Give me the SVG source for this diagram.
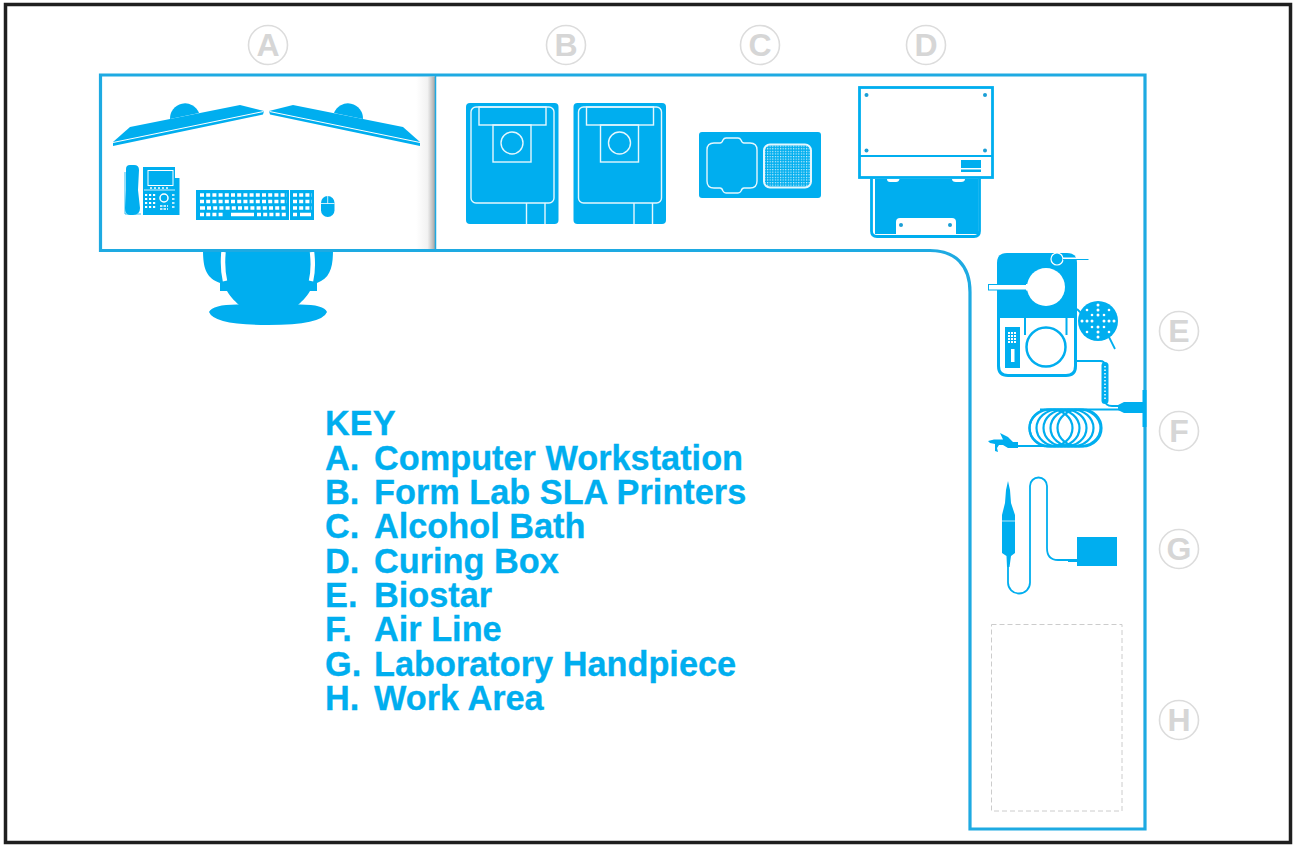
<svg xmlns="http://www.w3.org/2000/svg" width="1297" height="848" viewBox="0 0 1297 848">
<style>
.b{fill:#00aeef}
.w{fill:#fff}
.wl{fill:none;stroke:#e4f7fe;stroke-width:1.4}
.bl{fill:none;stroke:#00aeef;stroke-width:1.8}
.wall{fill:#fff;stroke:#1eaae2;stroke-width:3.2}
.lc{fill:#fff;stroke:#dcdcdc;stroke-width:1.6}
.lt{font:bold 32px "Liberation Sans",Arial,sans-serif;fill:#d6d6d6;text-anchor:middle}
.k{font:bold 34.3px "Liberation Sans",Arial,sans-serif;fill:#00aeef;stroke:#00aeef;stroke-width:.3}
</style>
<defs>
<linearGradient id="sh" x1="0" x2="1" y1="0" y2="0"><stop offset="0" stop-color="#aaa" stop-opacity="0"/><stop offset=".6" stop-color="#aaa" stop-opacity=".15"/><stop offset="1" stop-color="#999" stop-opacity=".9"/></linearGradient>
<pattern id="grid" width="2.6" height="2.6" patternUnits="userSpaceOnUse"><rect width="2.6" height="2.6" fill="#00aeef"/><rect width="1.2" height="1.2" fill="#d5f2fc"/></pattern>
<g id="printer">
<rect width="92.5" height="121" rx="4" class="b"/>
<rect x="5" y="4" width="83" height="96" rx="5" class="wl"/>
<rect x="13" y="4" width="67" height="18" class="wl"/>
<rect x="27" y="22" width="38" height="37" class="wl"/>
<circle cx="46" cy="40" r="11" class="wl"/>
<path d="M60.500 100V121M79 100V121" class="wl"/>
</g>
<g id="mon"><path d="M170 119A15 15 0 0 1 199 113Z" class="b"/><path d="M113 142L130 127L240 105L264 111L263 114.500L113 146Z" class="b"/><path d="M113 142.500L263.500 111.500" stroke="#fff" stroke-width="1" fill="none"/></g>
</defs>
<rect width="1297" height="848" fill="#fff"/>
<rect x="5.500" y="4.500" width="1285" height="838" fill="#fff" stroke="#1f1f1f" stroke-width="3.500"/>

<g id="chair">
<path d="M203 250C203 268 206 278 220 283V291H227C231 298 236 302 240 306H297C301 302 306 298 310 291H317V283C330 278 333 268 333 250Z" class="b"/>
<path d="M223.500 252Q222 268 225 281M312 252Q314 268 311 281" stroke="#fff" stroke-width="4.500" fill="none"/>
<path d="M209 312Q213 304 240 304.500H297Q324 304 327 312Q322 325 268 325Q214 325 209 312Z" class="b"/>
</g>

<g id="room">
<path class="wall" d="M100.500 75H1145V829H970V292C970 265 955 250.500 930 250.500H100.500Z"/>
<rect x="416" y="76.500" width="19" height="172.500" fill="url(#sh)"/>
<path d="M435.500 75V250" stroke="#1eaae2" stroke-width="1.500"/>
</g>

<g id="connectors">
<path class="bl" d="M1077 361H1100Q1105 361 1105 366V400Q1105 406 1112 406H1124"/>
<path class="bl" d="M1018 446H1048M1040 409.500H1122"/>
<path class="bl" d="M1008 567V582.500A11 11 0 0 0 1030 582.500V486A8.500 8.500 0 0 1 1047 486V548Q1047 560 1058 560H1077"/>
</g>

<g id="node-a">
<use href="#mon"/>
<use href="#mon" transform="matrix(-1 0 0 1 533 0)"/>
<g id="phone">
<rect x="143" y="167" width="32" height="48" class="b"/>
<rect x="175" y="178" width="4.500" height="37" class="b"/>
<path d="M127 169Q127 166 130 166H134Q138 166 138 170L137 190L139 208Q139 214 133 214H130Q126 214 126 208L127 190Z" class="b" stroke="#00aeef" stroke-width="2"/>
<path d="M125 172V214H141" fill="none" stroke="#00aeef" stroke-width=".8"/>
<rect x="148" y="170.500" width="25" height="15" fill="#00aeef" stroke="#fff"/>
<path d="M144 190H175" stroke="#fff" stroke-width=".8"/>
<path d="M150 188H170" stroke="#fff" stroke-width="1.500" stroke-dasharray="2 2"/>
<path d="M145 195H157M145 199H157M145 203H157M145 207H157" stroke="#fff" stroke-width="2" stroke-dasharray="2.200 1.800"/>
<circle cx="164" cy="198" r="4" fill="none" stroke="#fff" stroke-width="1.500"/>
<path d="M160 206H168M160 209H168M172 195H175M172 199H175M172 203H175M172 207H175" stroke="#fff" stroke-width="1.300" stroke-dasharray="2.500 1"/>
</g>
<g id="keyboard">
<rect x="196" y="190" width="118" height="30" class="b"/>
<path d="M289.500 190V220" stroke="#fff" stroke-width="1"/>
<path d="M200 195H287M200 201.500H287M207 208H287M200 214.500H224M257 214.500H287M293 195H312M293 201.500H312M293 208H312" stroke="#fff" stroke-width="3.600" stroke-dasharray="4 2.200"/>
<path d="M200 208H205M231 214.500H254M300 214.500H311M293 214.500H297" stroke="#fff" stroke-width="3.600"/>
</g>
<g id="mouse"><rect x="321" y="196" width="13.500" height="21" rx="6.700" class="b"/><path d="M321 203.500H334.500M327.700 196V203.500" stroke="#fff" stroke-width=".8"/></g>
</g>

<g id="node-b">
<use href="#printer" x="466" y="103"/>
<use href="#printer" x="573.500" y="103"/>
</g>

<g id="node-c">
<rect x="699" y="132" width="122" height="66" rx="3" class="b"/>
<path class="wl" d="M714 143H720Q722 143 723 140Q724 138 726 138H738Q740 138 741 140Q742 143 744 143H750Q757 143 757 150V181Q757 188 750 188H744Q742 188 741 191Q740 193 738 193H726Q724 193 723 191Q722 188 720 188H714Q707 188 707 181V150Q707 143 714 143Z"/>
<rect x="764" y="144.500" width="47" height="43" rx="6" fill="url(#grid)" stroke="#e4f7fe" stroke-width="2"/>
</g>

<g id="node-d">
<rect x="859.500" y="87.500" width="133" height="90" class="w" stroke="#00aeef" stroke-width="2.800"/>
<path d="M859 156H992" stroke="#00aeef" stroke-width="2"/>
<rect x="961" y="160" width="20" height="8" class="b"/><rect x="961" y="169.500" width="20" height="2.500" class="b"/>
<g fill="#1b9fd6"><circle cx="866.500" cy="95" r="2"/><circle cx="985" cy="95" r="2"/><circle cx="866.500" cy="150.500" r="2"/><circle cx="985" cy="150.500" r="2"/></g>
<rect x="875" y="179" width="103" height="55" class="b"/>
<path d="M871.500 178.500V231Q871.500 236.500 877 236.500H974Q979.500 236.500 979.500 231V178.500" fill="none" stroke="#00aeef" stroke-width="2.800"/>
<path d="M896 234V222Q896 218 900 218H952Q956 218 956 222V234Z" class="w"/>
<path d="M887 179H899.500Q899 182 896 182H890Q887 182 887 179ZM952 179H965Q965 182 961 182H956Q952 182 952 179Z" class="w"/>
<g fill="#1b9fd6"><circle cx="901" cy="225" r="2"/><circle cx="950" cy="225" r="2"/></g>
</g>

<g id="node-e">
<path d="M1007 253H1067Q1077 253 1077 263V318H997V263Q997 253 1007 253Z" class="b"/>
<path d="M998.500 318V366Q998.500 375.500 1008 375.500H1066Q1075.500 375.500 1075.500 366V318" fill="none" stroke="#00aeef" stroke-width="3"/>
<circle cx="1046" cy="287" r="19" class="w"/>
<rect x="988.500" y="284.500" width="38" height="5.500" class="w" stroke="#00aeef" stroke-width="1"/>
<path d="M1027 284V290.500" stroke="#fff" stroke-width="2"/>
<path d="M1063 257.500H1077V259H1063Z" class="w"/>
<circle cx="1057" cy="259" r="6" class="b" stroke="#fff" stroke-width="1.200"/>
<path d="M1063 259.500H1088.500" stroke="#00aeef" stroke-width="1"/>
<path d="M1025 318V335M1066.500 318V335" stroke="#00aeef" stroke-width="2"/>
<circle cx="1046" cy="347" r="19.500" class="w" stroke="#00aeef" stroke-width="2.500"/>
<rect x="1005" y="327" width="15" height="41" class="b"/>
<path d="M1008 333H1017M1008 336H1017M1008 339H1017M1008 342H1017" stroke="#fff" stroke-width="2" stroke-dasharray="2 1"/>
<rect x="1011" y="349" width="3.500" height="13" class="w"/>
<path d="M1077 309L1083 315M1109 337L1115 349" stroke="#00aeef" stroke-width="1.800"/>
<circle cx="1098" cy="321" r="20" class="b"/>
<g fill="#fff"><circle cx="1098" cy="305" r="1.500"/><circle cx="1098" cy="310" r="1.500"/><circle cx="1098" cy="315" r="1.500"/><circle cx="1098" cy="327" r="1.500"/><circle cx="1098" cy="332" r="1.500"/><circle cx="1098" cy="337" r="1.500"/><circle cx="1082" cy="321" r="1.500"/><circle cx="1087" cy="321" r="1.500"/><circle cx="1092" cy="321" r="1.500"/><circle cx="1104" cy="321" r="1.500"/><circle cx="1109" cy="321" r="1.500"/><circle cx="1114" cy="321" r="1.500"/><circle cx="1087" cy="310" r="1.300"/><circle cx="1109" cy="310" r="1.300"/><circle cx="1087" cy="332" r="1.300"/><circle cx="1109" cy="332" r="1.300"/><circle cx="1092" cy="315" r="1.300"/><circle cx="1104" cy="315" r="1.300"/><circle cx="1092" cy="327" r="1.300"/><circle cx="1104" cy="327" r="1.300"/></g>
<rect x="1101.500" y="362" width="7" height="42" rx="3.500" class="b"/>
<path d="M1105 366V401" stroke="#fff" stroke-width="1.500" stroke-dasharray="1.500 2"/>
</g>

<g id="node-f">
<path d="M1118 405L1124 402H1144V413H1124L1118 410Z" class="b"/>
<rect x="1142.500" y="390" width="4" height="37" class="b"/>
<g fill="none" stroke="#00aeef" stroke-width="2.200">
<path d="M1048 409.500H1083A18.500 18.500 0 0 1 1083 446.500H1048A18.500 18.500 0 0 1 1048 409.500Z"/>
<ellipse cx="1051" cy="428" rx="21.500" ry="18.500"/><ellipse cx="1058" cy="428" rx="21.500" ry="18.500"/><ellipse cx="1065" cy="428" rx="21.500" ry="18.500"/><ellipse cx="1072" cy="428" rx="21.500" ry="18.500"/><ellipse cx="1079" cy="428" rx="21.500" ry="18.500"/>
</g>
<path d="M988 441L994 439.500H1003L1000 433L1008 437L1013 442H1018V448H1008L1003 445H999L997 448L998 452L995 451L995 444L990 443Z" class="b"/>
</g>

<g id="node-g">
<path d="M1008 481L1010 490L1011 503L1015 515V553L1011 556L1009.500 567H1007L1006.500 556L1002 553V515L1005 503L1006 490Z" class="b"/>
<path d="M1002 521H1015" stroke="#fff" stroke-width=".7"/>
<rect x="1077" y="537" width="40" height="29" class="b"/>
<path d="M1068 559H1077V562H1068Z" class="b"/>
</g>

<g id="node-h"><rect x="991.500" y="624.500" width="130.500" height="186.500" fill="none" stroke="#ccc" stroke-width="1" stroke-dasharray="5 3"/></g>

<g id="labels">
<circle cx="268" cy="45" r="19.500" class="lc"/><text x="268" y="56" class="lt">A</text>
<circle cx="566" cy="45" r="19.500" class="lc"/><text x="566" y="56" class="lt">B</text>
<circle cx="760" cy="45" r="19.500" class="lc"/><text x="760" y="56" class="lt">C</text>
<circle cx="926" cy="45" r="19.500" class="lc"/><text x="926" y="56" class="lt">D</text>
<circle cx="1179" cy="331" r="19.500" class="lc"/><text x="1179" y="342" class="lt">E</text>
<circle cx="1179" cy="431" r="19.500" class="lc"/><text x="1179" y="442" class="lt">F</text>
<circle cx="1179" cy="549" r="19.500" class="lc"/><text x="1179" y="560" class="lt">G</text>
<circle cx="1179" cy="720" r="19.500" class="lc"/><text x="1179" y="731" class="lt">H</text>
</g>

<g id="key">
<text x="325" y="434.500" class="k">KEY</text>
<text x="325" y="469.500" class="k">A.</text><text x="374" y="469.500" class="k">Computer Workstation</text>
<text x="325" y="503.500" class="k">B.</text><text x="374" y="503.500" class="k">Form Lab SLA Printers</text>
<text x="325" y="537.500" class="k">C.</text><text x="374" y="537.500" class="k">Alcohol Bath</text>
<text x="325" y="572.500" class="k">D.</text><text x="374" y="572.500" class="k">Curing Box</text>
<text x="325" y="606.500" class="k">E.</text><text x="374" y="606.500" class="k">Biostar</text>
<text x="325" y="640.500" class="k">F.</text><text x="374" y="640.500" class="k">Air Line</text>
<text x="325" y="675.500" class="k">G.</text><text x="374" y="675.500" class="k">Laboratory Handpiece</text>
<text x="325" y="709.500" class="k">H.</text><text x="374" y="709.500" class="k">Work Area</text>
</g>
</svg>
